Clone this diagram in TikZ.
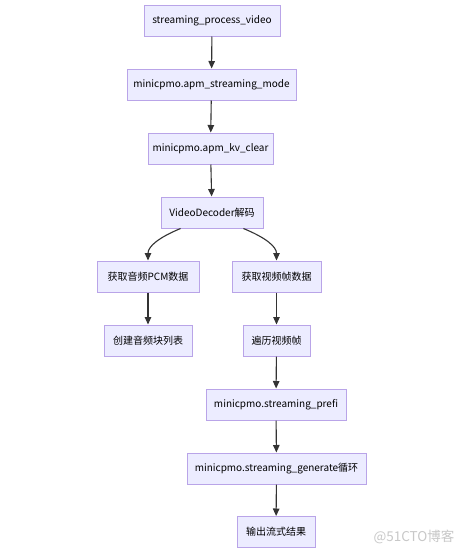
\documentclass[tikz,border=0pt]{standalone}
\usepackage{fontspec}
\setmainfont{Noto Sans CJK SC}
\usetikzlibrary{arrows.meta}
\definecolor{boxfill}{HTML}{ECECFF}
\definecolor{boxdraw}{HTML}{B9A4E8}
\definecolor{edgecol}{HTML}{333333}
\definecolor{wmark}{HTML}{C8C8C8}
\tikzset{
  flowbox/.style={draw=boxdraw, fill=boxfill, line width=1pt, inner sep=0pt,
    font=\fontsize{10}{12}\selectfont, text=black},
  flowedge/.style={draw=edgecol, line width=1.1pt, -{Triangle[length=7.5pt,width=6.5pt]}}
}
\begin{document}
\begin{tikzpicture}[x=1pt,y=-1pt]
\path[use as bounding box, fill=white] (0,0) rectangle (467,557);
\node[flowbox, minimum width=136pt, minimum height=31pt] (a) at (212,20.5) {streaming\_process\_video};
\node[flowbox, minimum width=169pt, minimum height=31pt] (b) at (211.5,84.5) {minicpmo.apm\_streaming\_mode};
\node[flowbox, minimum width=125pt, minimum height=31pt] (c) at (210.5,148.5) {minicpmo.apm\_kv\_clear};
\node[flowbox, minimum width=102pt, minimum height=31pt] (d) at (212,212.5) {VideoDecoder解码};
\node[flowbox, minimum width=102pt, minimum height=31pt] (e) at (148,276.5) {获取音频PCM数据};
\node[flowbox, minimum width=89pt, minimum height=31pt] (f) at (276.5,276.5) {获取视频帧数据};
\node[flowbox, minimum width=88pt, minimum height=31pt] (g) at (148,340.5) {创建音频块列表};
\node[flowbox, minimum width=67pt, minimum height=31pt] (h) at (276.5,340.5) {遍历视频帧};
\node[flowbox, minimum width=140pt, minimum height=31pt] (i) at (276,404.5) {minicpmo.streaming\_prefi};
\node[flowbox, minimum width=179pt, minimum height=31pt] (j) at (276.5,468.5) {minicpmo.streaming\_generate循环};
\node[flowbox, minimum width=78pt, minimum height=31pt] (k) at (276,532) {输出流式结果};
\node[text=wmark, font=\fontsize{13.5}{15}\selectfont, inner sep=0pt] (w) at (414,537) {@51CTO博客};
\draw[flowedge] (a) -- (b);
\draw[flowedge] (b) -- (c);
\draw[flowedge] (c) -- (d);
\draw[flowedge] (d.207) .. controls +(-22,9) and +(0,-14) .. (e.north);
\draw[flowedge] (d.333) .. controls +(22,9) and +(0,-14) .. (f.north);
\draw[flowedge] (e) -- (g);
\draw[flowedge] (f) -- (h);
\draw[flowedge] (h) -- (i);
\draw[flowedge] (i) -- (j);
\draw[flowedge] (j) -- (k);
\end{tikzpicture}
\end{document}
